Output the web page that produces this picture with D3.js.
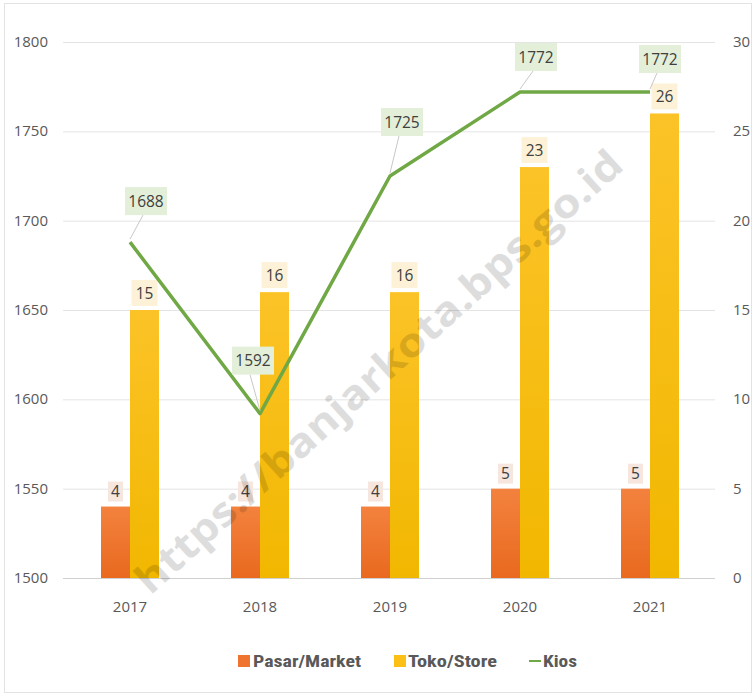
<!DOCTYPE html>
<html><head><meta charset="utf-8">
<script src="https://cdn.jsdelivr.net/npm/d3@7"></script>
<style>body{margin:0;background:#fff}svg{display:block}</style>
</head><body><svg id="c" width="755" height="696"></svg>
<script>
const years = ["2017","2018","2019","2020","2021"];
const pasar = [4,4,4,5,5];
const toko = [15,16,16,23,26];
const kios = [1688,1592,1725,1772,1772];
const leftTicks = [1500,1550,1600,1650,1700,1750,1800];
const rightTicks = [0,5,10,15,20,25,30];
const seriesNames = ["Pasar/Market","Toko/Store","Kios"];
// manual label offsets for Kios labels (dx, dy from point)
const kiosLabelOffset = [[16,-41],[-7,-53],[12,-54],[16,-35],[10,-33]];

const svg = d3.select("#c");
const font = "'Open Sans','Noto Sans',sans-serif";
const txt = "#595959";

const x = d3.scaleBand().domain(years).range([65,715]).paddingInner(0.554).paddingOuter(0.277);
const x1 = d3.scaleBand().domain(["p","t"]).range([0,x.bandwidth()]);
const yL = d3.scaleLinear().domain([1500,1800]).range([578,42]);
const yR = d3.scaleLinear().domain([0,30]).range([578,42]);

// border
svg.append("rect").attr("x",4.5).attr("y",3.5).attr("width",747).attr("height",689)
  .attr("fill","#fff").attr("stroke","#e3e3e3");

const defs = svg.append("defs");
const g1 = defs.append("linearGradient").attr("id","gp").attr("x1",0).attr("y1",0).attr("x2",0).attr("y2",1);
g1.append("stop").attr("offset",0).attr("stop-color","#f3823e");
g1.append("stop").attr("offset",1).attr("stop-color","#e9691f");
const g2 = defs.append("linearGradient").attr("id","gt").attr("x1",0).attr("y1",0).attr("x2",0).attr("y2",1);
g2.append("stop").attr("offset",0).attr("stop-color","#fcc328");
g2.append("stop").attr("offset",1).attr("stop-color","#f1b700");

// gridlines
svg.append("g").selectAll("line").data(leftTicks).join("line")
  .attr("x1",63).attr("x2",715).attr("y1",d=>yL(d)+0.5).attr("y2",d=>yL(d)+0.5)
  .attr("stroke",(d,i)=>i===0?"#d0d0d0":"#e4e4e4").attr("stroke-width",1);

// left axis labels
svg.append("g").selectAll("text").data(leftTicks).join("text")
  .attr("x",48).attr("y",d=>yL(d)+5).attr("text-anchor","end")
  .attr("font-family",font).attr("font-size",15).attr("fill",txt).text(d=>d);
// right axis labels
svg.append("g").selectAll("text").data(rightTicks).join("text")
  .attr("x",733).attr("y",d=>yR(d)+5).attr("text-anchor","start")
  .attr("font-family",font).attr("font-size",15).attr("fill",txt).text(d=>d);
// x labels
svg.append("g").selectAll("text").data(years).join("text")
  .attr("x",d=>x(d)+x.bandwidth()/2).attr("y",612).attr("text-anchor","middle")
  .attr("font-family",font).attr("font-size",15).attr("fill",txt).text(d=>d);

// bars
svg.append("g").selectAll("rect").data(years).join("rect")
  .attr("x",d=>x(d)+x1("p")).attr("width",x1.bandwidth())
  .attr("y",(d,i)=>yR(pasar[i])).attr("height",(d,i)=>yR(0)-yR(pasar[i]))
  .attr("fill","url(#gp)");
svg.append("g").selectAll("rect").data(years).join("rect")
  .attr("x",d=>x(d)+x1("t")).attr("width",x1.bandwidth())
  .attr("y",(d,i)=>yR(toko[i])).attr("height",(d,i)=>yR(0)-yR(toko[i]))
  .attr("fill","url(#gt)");

function boxLabel(g, cx, cy, text, bg, w, h){
  g.append("rect").attr("x",cx-w/2).attr("y",cy-h/2).attr("width",w).attr("height",h).attr("fill",bg);
  g.append("text").attr("x",cx).attr("y",cy+5.5).attr("text-anchor","middle")
    .attr("font-family",font).attr("font-size",15.5).attr("fill","#404040").text(text);
}
const lbl = svg.append("g");
years.forEach((yr,i)=>{
  const cp = x(yr)+x1("p")+x1.bandwidth()/2;
  boxLabel(lbl, cp, yR(pasar[i])-15, pasar[i], "#f7e6dd", 15, 20);
  const ct = x(yr)+x1("t")+x1.bandwidth()/2;
  boxLabel(lbl, ct, yR(toko[i])-17, toko[i], "#fdf2d8", 26, 26);
});

// kios line
const cx = d=>x(d)+x.bandwidth()/2;
const line = d3.line().x((d,i)=>cx(years[i])).y(d=>yL(d));
svg.append("path").datum(kios).attr("d",line).attr("fill","none")
  .attr("stroke","#70a845").attr("stroke-width",3.5).attr("stroke-linejoin","round");

// kios labels with leaders
const kl = svg.append("g");
kios.forEach((v,i)=>{
  const px = cx(years[i]), py = yL(v);
  const lx = px+kiosLabelOffset[i][0], ly = py+kiosLabelOffset[i][1];
  kl.append("line").attr("x1",lx-3).attr("y1",ly+14).attr("x2",px).attr("y2",py-3)
    .attr("stroke","#c8c8c8").attr("stroke-width",1);
  boxLabel(kl, lx, ly, v, "#e3efd9", 42, 28);
});

// legend
const lg = svg.append("g").attr("font-family","'Liberation Sans Narrow','Roboto Condensed','Open Sans',sans-serif")
  .attr("font-weight","bold").attr("font-size",17).attr("fill",txt);
lg.append("rect").attr("x",238).attr("y",655).attr("width",12).attr("height",12).attr("fill","#ee7430");
lg.append("text").attr("x",253).attr("y",667).attr("textLength",108).attr("lengthAdjust","spacingAndGlyphs").text(seriesNames[0]);
lg.append("rect").attr("x",394).attr("y",655).attr("width",12).attr("height",12).attr("fill","#fbbf16");
lg.append("text").attr("x",408).attr("y",667).attr("textLength",89).attr("lengthAdjust","spacingAndGlyphs").text(seriesNames[1]);
lg.append("line").attr("x1",529).attr("x2",541).attr("y1",661).attr("y2",661).attr("stroke","#70a845").attr("stroke-width",2);
lg.append("text").attr("x",543).attr("y",667).attr("textLength",34).attr("lengthAdjust","spacingAndGlyphs").text(seriesNames[2]);

// watermark
svg.append("text").attr("transform","translate(388,382) rotate(-42)")
  .attr("text-anchor","middle").attr("font-family","'Open Sans',sans-serif").attr("font-weight","bold")
  .attr("font-size",40).attr("fill","#000").attr("opacity",0.13)
  .attr("textLength",640).attr("lengthAdjust","spacingAndGlyphs")
  .text("https://banjarkota.bps.go.id");
</script></body></html>
